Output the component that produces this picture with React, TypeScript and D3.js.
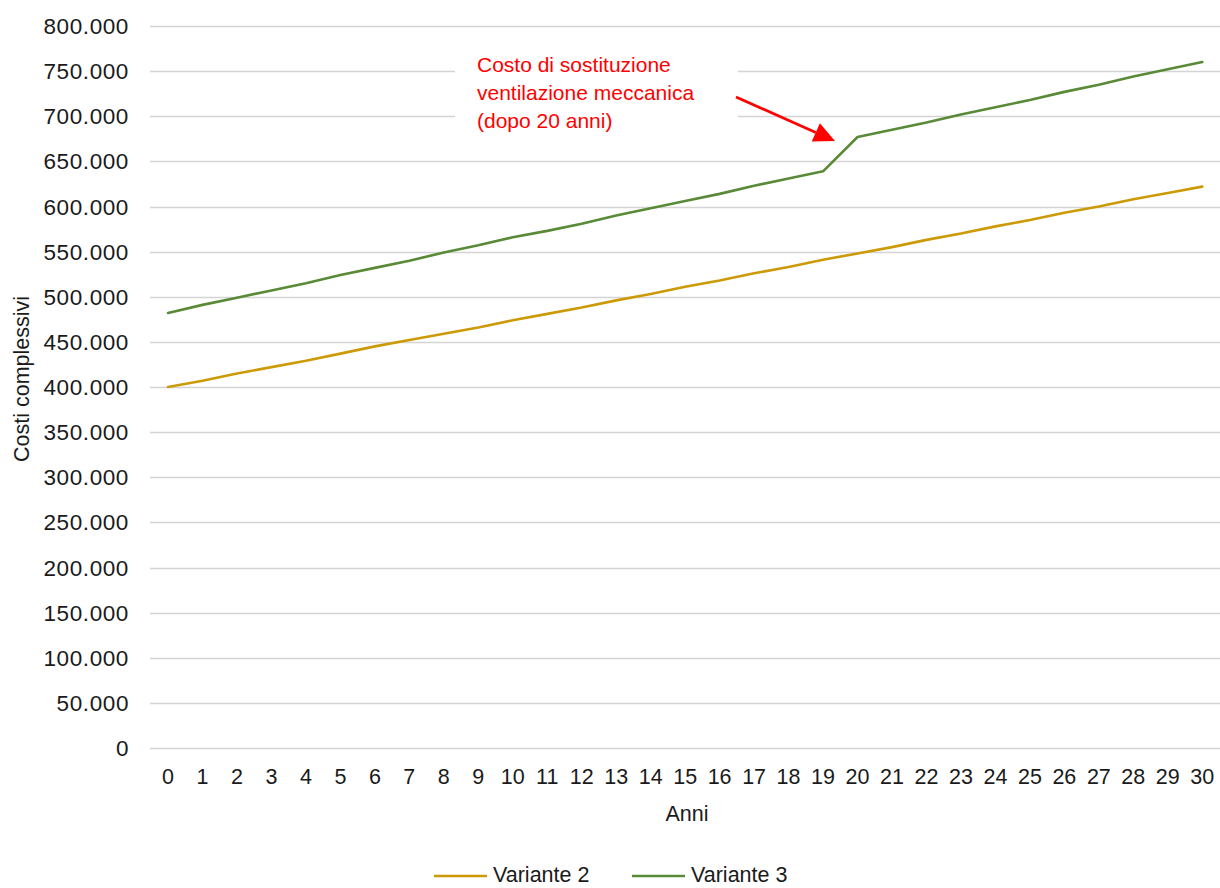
import React from "react";
import * as d3 from "d3";

const years: number[] = Array.from({ length: 31 }, (_, i) => i);
const variante2: number[] = [
  400000, 407000, 415000, 422000, 429000, 437000, 445000, 452000, 459000, 466000,
  474000, 481000, 488000, 496000, 503000, 511000, 518000, 526000, 533000, 541000,
  548000, 555000, 563000, 570000, 578000, 585000, 593000, 600000, 608000, 615000, 622000,
];
const variante3: number[] = [
  482000, 491000, 499000, 507000, 515000, 524000, 532000, 540000, 549000, 557000,
  566000, 573000, 581000, 590000, 598000, 606000, 614000, 623000, 631000, 639000,
  677000, 685000, 693000, 702000, 710000, 718000, 727000, 735000, 744000, 752000, 760000,
];
const yTicks: number[] = d3.range(0, 800001, 50000);
const seriesNames: string[] = ["Variante 2", "Variante 3"];
const seriesColors: string[] = ["#CC9A06", "#588A38"];
const annotationLines: string[] = [
  "Costo di sostituzione",
  "ventilazione meccanica",
  "(dopo 20 anni)",
];

const W = 1220;
const H = 888;
const FONT = "'Liberation Sans', Arial, sans-serif";

export default function App() {
  const x = d3
    .scaleBand<number>()
    .domain(years)
    .range([150.8, 1219.5])
    .padding(0);
  const cx = (d: number) => (x(d) as number) + x.bandwidth() / 2;
  const y = d3.scaleLinear().domain([0, 800000]).range([748, 26]);
  const fmt = (v: number) =>
    v === 0 ? "0" : d3.format(",")(v).replace(/,/g, ".");

  const line = d3
    .line<number>()
    .x((_, i) => cx(years[i]))
    .y((d) => y(d));

  const series = [variante2, variante3];

  // arrow geometry
  const ax0 = 736, ay0 = 97, ax1 = 835, ay1 = 141;
  const ang = Math.atan2(ay1 - ay0, ax1 - ax0);
  const hl = 21, hw = 10;
  const bx = ax1 - hl * Math.cos(ang), by = ay1 - hl * Math.sin(ang);
  const px = -Math.sin(ang), py = Math.cos(ang);
  const head = `${ax1},${ay1} ${bx + px * hw},${by + py * hw} ${bx - px * hw},${by - py * hw}`;

  return (
    <svg
      width={W}
      height={H}
      style={{ position: "absolute", left: 0, top: 0, background: "#fff" }}
      fontFamily={FONT}
    >
      <rect x={0} y={0} width={W} height={H} fill="#fff" />
      {yTicks.map((t) => (
        <g key={t}>
          <line
            x1={150}
            x2={1220}
            y1={Math.round(y(t)) + 0.5}
            y2={Math.round(y(t)) + 0.5}
            stroke="#d4d4d4"
            strokeWidth={1.3}
          />
          <text
            x={129}
            y={y(t)}
            dy="0.36em"
            textAnchor="end"
            fontSize={22.5}
            letterSpacing={0.6}
            fill="#1a1a1a"
          >
            {fmt(t)}
          </text>
        </g>
      ))}
      {years.map((yr) => (
        <text
          key={yr}
          x={cx(yr)}
          y={784}
          textAnchor="middle"
          fontSize={21.5}
          fill="#1a1a1a"
        >
          {yr}
        </text>
      ))}
      <text x={687} y={821} textAnchor="middle" fontSize={21.5} fill="#1a1a1a">
        Anni
      </text>
      <text
        transform={`translate(29,379) rotate(-90)`}
        textAnchor="middle"
        fontSize={21.5}
        fill="#1a1a1a"
      >
        Costi complessivi
      </text>

      {/* annotation box (covers gridlines) */}
      <rect x={455} y={50} width={283} height={100} fill="#fff" />

      {series.map((s, i) => (
        <path
          key={i}
          d={line(s) as string}
          fill="none"
          stroke={seriesColors[i]}
          strokeWidth={2.6}
          strokeLinejoin="round"
          strokeLinecap="round"
        />
      ))}

      {annotationLines.map((t, i) => (
        <text key={i} x={477} y={72 + i * 28} fontSize={21} fill="#ff0000">
          {t}
        </text>
      ))}
      <line
        x1={ax0}
        y1={ay0}
        x2={bx}
        y2={by}
        stroke="#ff0000"
        strokeWidth={2.8}
      />
      <polygon points={head} fill="#ff0000" />

      {/* legend */}
      {seriesNames.map((n, i) => {
        const lx = i === 0 ? 434 : 632;
        return (
          <g key={n}>
            <line
              x1={lx}
              x2={lx + 53}
              y1={876}
              y2={876}
              stroke={seriesColors[i]}
              strokeWidth={2.6}
            />
            <text x={lx + 59} y={882} fontSize={21.5} fill="#1a1a1a">
              {n}
            </text>
          </g>
        );
      })}
    </svg>
  );
}
